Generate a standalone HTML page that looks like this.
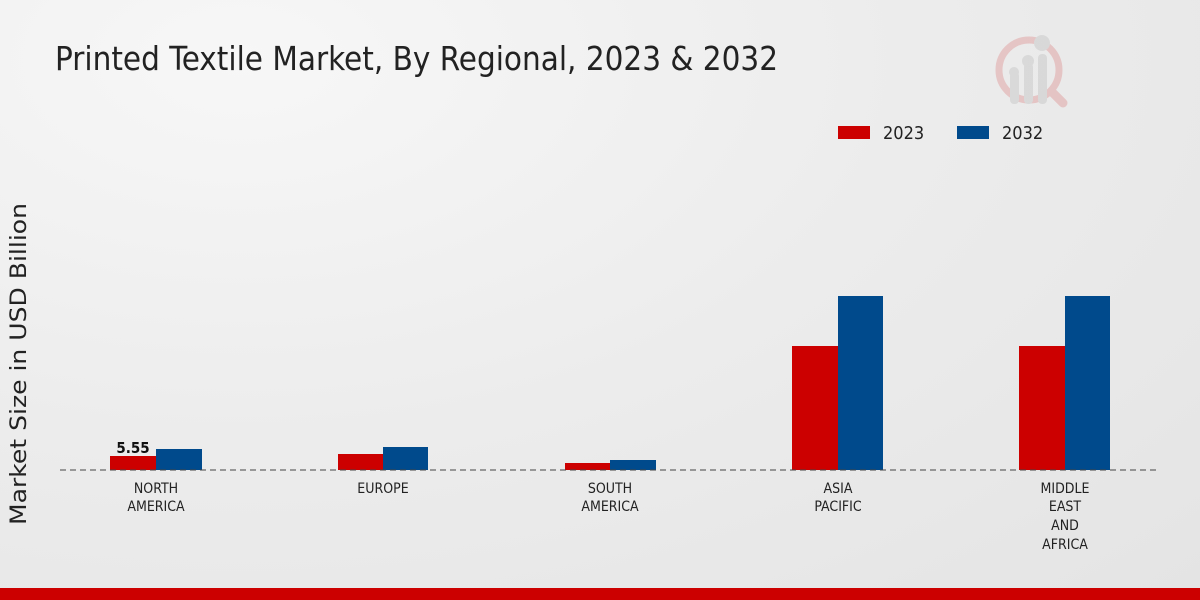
<!DOCTYPE html>
<html><head><style>
html,body{margin:0;padding:0;}
body{width:1200px;height:600px;overflow:hidden;background:radial-gradient(ellipse at 20% 10%,#f7f7f7 0%,#ececec 50%,#e4e4e4 100%);}
svg{display:block;font-family:"DejaVu Sans Condensed","DejaVu Sans","Liberation Sans",sans-serif;}
</style></head><body>
<svg width="1200" height="600" xmlns="http://www.w3.org/2000/svg">
<text x="55" y="70" font-size="33" fill="#222" textLength="723" lengthAdjust="spacingAndGlyphs">Printed Textile Market, By Regional, 2023 &amp; 2032</text>
<g opacity="0.5">
<circle cx="1029" cy="70" r="30" fill="none" stroke="#e0a0a0" stroke-width="7"/>
<line x1="1052" y1="92" x2="1063" y2="103" stroke="#e0a0a0" stroke-width="9" stroke-linecap="round"/>
<rect x="1010" y="72" width="9" height="32" rx="4" fill="#c8c8c8"/>
<rect x="1024" y="63" width="9" height="41" rx="4" fill="#c8c8c8"/>
<rect x="1038" y="54" width="9" height="50" rx="4" fill="#c8c8c8"/>
<circle cx="1014" cy="72" r="5" fill="#c8c8c8"/><circle cx="1028" cy="61" r="6" fill="#c8c8c8"/><circle cx="1042" cy="43" r="8" fill="#c8c8c8"/>
</g>
<rect x="838" y="126" width="32" height="13" fill="#cc0000"/>
<text x="883" y="139" font-size="18" fill="#222">2023</text>
<rect x="957" y="126" width="32" height="13" fill="#004a8c"/>
<text x="1002" y="139" font-size="18" fill="#222">2032</text>
<text transform="translate(26,364) rotate(-90)" font-family="DejaVu Sans, sans-serif" font-size="22" fill="#222" text-anchor="middle" textLength="322" lengthAdjust="spacingAndGlyphs">Market Size in USD Billion</text>
<g fill="#cc0000">
<rect x="110" y="456" width="46" height="14"/>
<rect x="338" y="454" width="45" height="16"/>
<rect x="565" y="463" width="45" height="7"/>
<rect x="792" y="346" width="46" height="124"/>
<rect x="1019" y="346" width="46" height="124"/>
</g>
<g fill="#004a8c">
<rect x="156" y="449" width="46" height="21"/>
<rect x="383" y="447" width="45" height="23"/>
<rect x="610" y="460" width="46" height="10"/>
<rect x="838" y="296" width="45" height="174"/>
<rect x="1065" y="296" width="45" height="174"/>
</g>
<line x1="60" y1="470" x2="1160" y2="470" stroke="#444" stroke-width="1" stroke-dasharray="6,4"/>
<text x="133" y="453" font-size="15" font-weight="bold" fill="#111" text-anchor="middle">5.55</text>
<g font-size="14" fill="#222" text-anchor="middle">
<text x="156" y="493">NORTH</text><text x="156" y="511">AMERICA</text>
<text x="383" y="493">EUROPE</text>
<text x="610" y="493">SOUTH</text><text x="610" y="511">AMERICA</text>
<text x="838" y="493">ASIA</text><text x="838" y="511">PACIFIC</text>
<text x="1065" y="493">MIDDLE</text><text x="1065" y="511">EAST</text><text x="1065" y="530">AND</text><text x="1065" y="549">AFRICA</text>
</g>
<rect x="0" y="588" width="1200" height="12" fill="#cc0000"/>
</svg>
</body></html>
